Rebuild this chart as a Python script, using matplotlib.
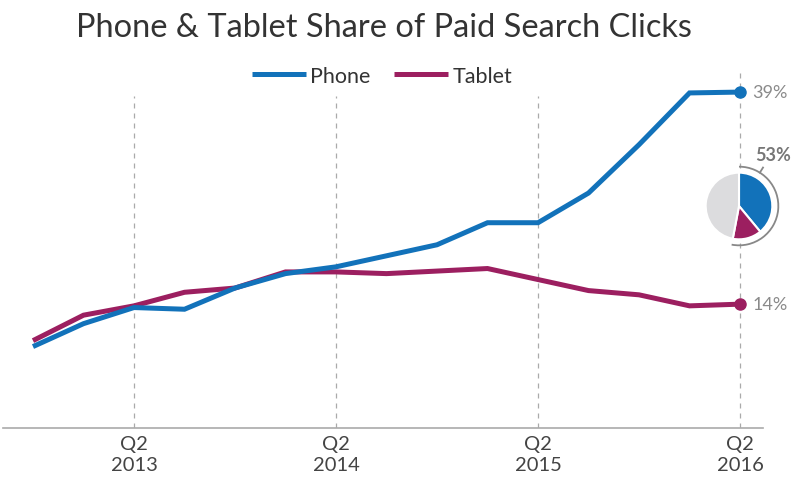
import numpy as np
import matplotlib.pyplot as plt
from matplotlib.patches import Arc

plt.rcParams['font.family'] = ['Lato', 'DejaVu Sans']

# quarterly share of paid search clicks (%), Q4 2012 .. Q2 2016
quarters = ['Q4 2012', 'Q1 2013', 'Q2 2013', 'Q3 2013', 'Q4 2013',
            'Q1 2014', 'Q2 2014', 'Q3 2014', 'Q4 2014',
            'Q1 2015', 'Q2 2015', 'Q3 2015', 'Q4 2015',
            'Q1 2016', 'Q2 2016']
phone = [9.0, 11.7, 13.6, 13.4, 15.9, 17.6, 18.4, 19.7, 21.0,
         23.6, 23.6, 27.1, 32.8, 38.9, 39.0]
tablet = [9.7, 12.7, 13.8, 15.4, 15.9, 17.8, 17.8, 17.6, 17.9,
          18.2, 16.9, 15.6, 15.1, 13.8, 14.0]
tick_labels = ['Q2\n2013', 'Q2\n2014', 'Q2\n2015', 'Q2\n2016']
tick_quarters = ['Q2 2013', 'Q2 2014', 'Q2 2015', 'Q2 2016']

blue = '#1272BA'
plum = '#9C1F60'
grey_txt = '#8A8A8A'

W, H = 800, 489
fig = plt.figure(figsize=(W / 100, H / 100), dpi=100)

# main axes placed by pixel box
left, right, top, bottom = 3, 763, 60, 429
ax = fig.add_axes([left / W, 1 - bottom / H, (right - left) / W, (bottom - top) / H])

x = np.arange(len(quarters))
tick_pos = [quarters.index(q) for q in tick_quarters]

for i, p in enumerate(tick_pos):
    ytop = 41.5 if i == len(tick_pos) - 1 else 38.5
    ax.vlines(p, -0.6, ytop, colors='#AAAAAA', linestyles=(0, (4, 4)), lw=0.9, zorder=1)

ax.plot(x, phone, color=blue, lw=3.6, solid_capstyle='butt', solid_joinstyle='miter', label='Phone', zorder=3)
ax.plot(x, tablet, color=plum, lw=3.6, solid_capstyle='butt', solid_joinstyle='miter', label='Tablet', zorder=2)
ax.plot(x[-1], phone[-1], 'o', color=blue, ms=8, zorder=4)
ax.plot(x[-1], tablet[-1], 'o', color=plum, ms=8, zorder=4)
ax.text(x[-1] + 0.24, phone[-1], f'{phone[-1]:.0f}%', color=grey_txt, fontsize=13, va='center')
ax.text(x[-1] + 0.24, tablet[-1], f'{tablet[-1]:.0f}%', color=grey_txt, fontsize=13, va='center')

ax.set_xlim(-0.594, 14.455)
ax.set_ylim(-0.6, 42.9)
ax.set_xticks(tick_pos)
ax.set_xticklabels(tick_labels, fontsize=14.5, color='#444444', linespacing=1.3)
ax.tick_params(axis='x', length=0, pad=5)
ax.set_yticks([])
for s in ['left', 'right', 'top']:
    ax.spines[s].set_visible(False)
ax.spines['bottom'].set_color('#AAAAAA')
ax.spines['bottom'].set_linewidth(1.2)

leg = ax.legend(loc='center', bbox_to_anchor=(0.499, 0.954), ncol=2, frameon=False,
                fontsize=15.5, handlelength=2.5, handletextpad=0.2, columnspacing=1.1)
for t in leg.get_texts():
    t.set_color('#333333')

fig.text(0.48, 1 - 28 / H, 'Phone & Tablet Share of Paid Search Clicks', ha='center', va='center',
         fontsize=23.4, color='#333333')

# small pie for the latest quarter
cx, cy, size = 739, 207, 100
pax = fig.add_axes([(cx - size / 2) / W, 1 - (cy + size / 2) / H, size / W, size / H])
other = 100 - phone[-1] - tablet[-1]
pax.pie([phone[-1], tablet[-1], other], colors=[blue, plum, '#DCDCDE'], startangle=90,
        counterclock=False, radius=1, wedgeprops=dict(edgecolor='white', linewidth=1.5))
share = phone[-1] + tablet[-1]
pax.add_patch(Arc((0, 0), 2.36, 2.36, theta1=90 - 3.6 * share, theta2=90, color='#888888', lw=1.3))
ang = np.deg2rad(58)
pax.plot([1.18 * np.cos(ang), 1.36 * np.cos(ang)], [1.18 * np.sin(ang), 1.36 * np.sin(ang)],
         color='#888888', lw=1.3)
pax.set_xlim(-1.5, 1.5)
pax.set_ylim(-1.5, 1.5)
pax.set_aspect('equal')
pax.axis('off')
fig.text(773 / W, 1 - 156 / H, f'{share:.0f}%', ha='center', va='center', fontsize=13,
         fontweight='bold', color='#777777')

fig.savefig('out.png', dpi=100)
